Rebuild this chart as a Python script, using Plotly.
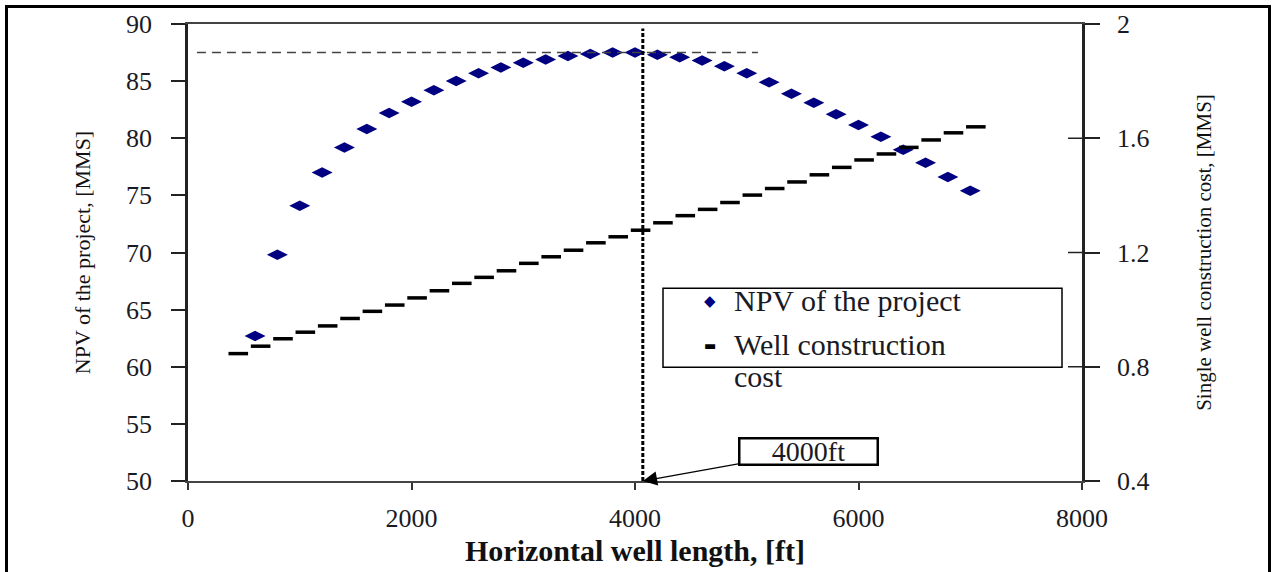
import plotly.graph_objects as go

# ---- data ----
npv_length_ft = [600, 800, 1000, 1200, 1400, 1600, 1800, 2000, 2200, 2400, 2600, 2800,
                 3000, 3200, 3400, 3600, 3800, 4000, 4200, 4400, 4600, 4800, 5000, 5200,
                 5400, 5600, 5800, 6000, 6200, 6400, 6600, 6800, 7000]
npv_mms = [62.7, 69.8, 74.1, 77.0, 79.2, 80.8, 82.2, 83.2, 84.2, 85.0, 85.7, 86.2,
           86.6, 86.9, 87.2, 87.37, 87.5, 87.5, 87.3, 87.1, 86.8, 86.3, 85.7, 84.9,
           83.9, 83.1, 82.1, 81.16, 80.13, 79.0, 77.85, 76.6, 75.4]

cost_length_ft = [450, 650, 850, 1050, 1250, 1450, 1650, 1850, 2050, 2250, 2450, 2650,
                  2850, 3050, 3250, 3450, 3650, 3850, 4050, 4250, 4450, 4650, 4850, 5050,
                  5250, 5450, 5650, 5850, 6050, 6250, 6450, 6650, 6850, 7050]
cost_mms = [0.846, 0.872, 0.898, 0.921, 0.943, 0.969, 0.994, 1.016, 1.041, 1.066, 1.092, 1.113,
            1.136, 1.162, 1.185, 1.208, 1.234, 1.255, 1.278, 1.304, 1.329, 1.351, 1.375, 1.401,
            1.424, 1.447, 1.472, 1.498, 1.524, 1.545, 1.568, 1.594, 1.619, 1.640]

series_names = ["NPV of the project", "Well construction", "cost"]
optimum_length_ft = 4070
optimum_label = "4000ft"
max_npv = 87.5
max_line_end_ft = 5100
x_ticks = [0, 2000, 4000, 6000, 8000]
y_left_ticks = [50, 55, 60, 65, 70, 75, 80, 85, 90]
y_right_ticks = [0.4, 0.8, 1.2, 1.6, 2.0]
y_right_labels = ["0.4", "0.8", "1.2", "1.6", "2"]

# ---- layout geometry (page pixels; body margin removed by post_script) ----
W, H = 1274, 572
L, R, T, B = 188, 1082, 24, 480.7
pw, ph = R - L, B - T
def px(x):
    return (x - L) / pw
def py(y):
    return (B - y) / ph

SERIF = "Liberation Serif"
TXT = "#1a1a24"

fig = go.Figure()
fig.add_trace(go.Scatter(
    x=npv_length_ft, y=npv_mms, mode="markers", name=series_names[0],
    marker=dict(symbol="diamond-wide", size=15, color="#000080"),
    showlegend=False,
))
fig.add_trace(go.Scatter(
    x=cost_length_ft, y=cost_mms, mode="markers", name=series_names[1] + " " + series_names[2],
    marker=dict(symbol="line-ew", size=14, line=dict(color="black", width=3.5)),
    yaxis="y2", showlegend=False,
))

# reference lines
fig.add_shape(type="line", x0=optimum_length_ft, x1=optimum_length_ft, y0=50, y1=89.6,
              xref="x", yref="y", line=dict(color="black", width=3, dash="4px,2px"))
fig.add_shape(type="line", x0=80, x1=max_line_end_ft, y0=max_npv, y1=max_npv,
              xref="x", yref="y", line=dict(color="#444", width=1.5, dash="9px,6px"))

# crossing tick marks inside the right axis
for v in y_right_ticks[1:-1]:
    fig.add_shape(type="line", xref="paper", yref="y2", x0=px(1068), x1=1, y0=v, y1=v,
                  line=dict(color="#222", width=1.5))

# outer frame
fig.add_shape(type="rect", xref="paper", yref="paper",
              x0=px(6.5), x1=px(1269.5), y0=py(600), y1=py(6.5),
              line=dict(color="black", width=3), fillcolor="rgba(0,0,0,0)", layer="above")

# legend (drawn as box + text)
fig.add_shape(type="rect", xref="paper", yref="paper",
              x0=px(663), x1=px(1062), y0=py(367), y1=py(288),
              line=dict(color="black", width=1.5), fillcolor="white", layer="above")
leg_font = dict(family=SERIF, size=30, color=TXT)
fig.add_annotation(xref="paper", yref="paper", x=px(710), y=py(301), text="◆",
                   showarrow=False, font=dict(family="DejaVu Sans", size=15, color="#000080"),
                   xanchor="center", yanchor="middle")
fig.add_annotation(xref="paper", yref="paper", x=px(732), y=py(300), text=series_names[0],
                   showarrow=False, font=leg_font, xanchor="left", yanchor="middle")
fig.add_annotation(xref="paper", yref="paper", x=px(710), y=py(345), text="▬",
                   showarrow=False, font=dict(family="DejaVu Sans", size=13, color="black"),
                   xanchor="center", yanchor="middle")
fig.add_annotation(xref="paper", yref="paper", x=px(732), y=py(344), text=series_names[1],
                   showarrow=False, font=leg_font, xanchor="left", yanchor="middle")
fig.add_annotation(xref="paper", yref="paper", x=px(732), y=py(376), text=series_names[2],
                   showarrow=False, font=leg_font, xanchor="left", yanchor="middle")

# optimum annotation
fig.add_annotation(
    x=optimum_length_ft, y=50, xref="x", yref="y",
    text=optimum_label, showarrow=True, ax=166, ay=-30,
    arrowhead=2, arrowsize=2.2, arrowwidth=1.3, arrowcolor="black",
    bordercolor="black", borderwidth=2.5, bgcolor="white",
    width=134, height=22, borderpad=1,
    font=dict(family=SERIF, size=28, color=TXT),
)

fig.update_layout(
    width=W, height=H,
    margin=dict(l=L, r=W - R, t=T, b=H - B, autoexpand=False),
    paper_bgcolor="white", plot_bgcolor="white",
    font=dict(family=SERIF, color=TXT),
    xaxis=dict(
        range=[0, 8000], tickvals=x_ticks, ticks="outside", ticklen=7, tickwidth=2,
        tickcolor="#333", showline=True, linecolor="#444", linewidth=1.5, mirror=True,
        showgrid=False, zeroline=False, ticklabelstandoff=6,
        tickfont=dict(family=SERIF, size=26, color=TXT),
        title=dict(text="<b>Horizontal well length, [ft]</b>",
                   font=dict(family=SERIF, size=30, color="#111"), standoff=8),
    ),
    yaxis=dict(
        range=[50, 90], tickvals=y_left_ticks, ticks="outside", ticklen=14, tickwidth=1.5,
        tickcolor="#222", showline=True, linecolor="#222", linewidth=2.5,
        showgrid=False, zeroline=False, ticklabelstandoff=14,
        tickfont=dict(family=SERIF, size=26, color=TXT),
        title=dict(text="NPV of the project, [MMS]",
                   font=dict(family=SERIF, size=22, color="#111"), standoff=30),
    ),
    yaxis2=dict(
        range=[0.4, 2.0], tickvals=y_right_ticks, ticktext=y_right_labels,
        overlaying="y", side="right", anchor="x",
        ticks="outside", ticklen=15, tickwidth=1.5, tickcolor="#222",
        showline=True, linecolor="#222", linewidth=2.5,
        showgrid=False, zeroline=False, ticklabelstandoff=12,
        tickfont=dict(family=SERIF, size=26, color=TXT),
        title=dict(text="Single well construction cost, [MMS]",
                   font=dict(family=SERIF, size=21, color="#111"), standoff=48),
    ),
    showlegend=False,
)

fig.write_html("out.html", config={"displayModeBar": False},
               post_script="document.body.style.margin='0px';")
